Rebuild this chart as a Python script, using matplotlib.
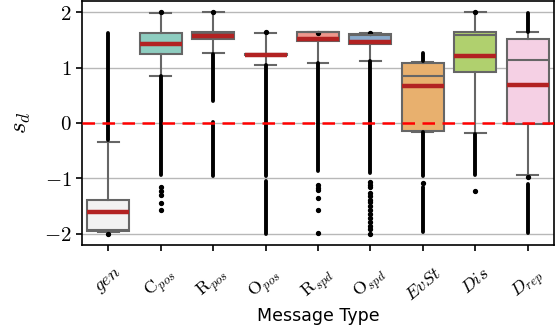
import numpy as np
import matplotlib
matplotlib.use('Agg')
import matplotlib.pyplot as plt

plt.rcParams['font.family'] = 'serif'
plt.rcParams['font.serif'] = ['DejaVu Serif']
plt.rcParams['mathtext.fontset'] = 'cm'

# categories and tick labels
categories = ['gen', 'C_pos', 'R_pos', 'O_pos', 'R_spd', 'O_spd', 'EvSt', 'Dis', 'D_rep']
tick_labels = [r'$gen$', r'$\mathrm{C}_{pos}$', r'$\mathrm{R}_{pos}$', r'$\mathrm{O}_{pos}$',
               r'$\mathrm{R}_{spd}$', r'$\mathrm{O}_{spd}$', r'$EvSt$', r'$Dis$', r'$D_{rep}$']
box_colors = ['#f2f2f2', '#8ecdc0', '#ec8a7f', '#bdb9d6', '#ee978d', '#8aaacb',
              '#e8b06e', '#b0d06e', '#f5d0e4']
y_ticks = [-2, -1, 0, 1, 2]

# box summary values
q1 = [-1.94, 1.25, 1.52, 1.23, 1.47, 1.42, -0.15, 0.925, -0.025]
median = [-1.93, 1.45, 1.62, 1.24, 1.64, 1.59, 0.85, 1.58, 1.134]
q3 = [-1.39, 1.63, 1.64, 1.25, 1.64, 1.61, 1.09, 1.636, 1.516]
mean = [-1.61, 1.43, 1.565, 1.235, 1.515, 1.46, 0.66, 1.21, 0.68]
whis_lo = [-1.97, 0.85, 1.26, 1.045, 1.09, 1.12, -0.16, -0.18, -0.944]
whis_hi = [-0.34, 1.99, 2.0, 1.625, 1.64, 1.62, 1.10, 2.0, 1.636]

# single outliers that can be seen one by one
isolated = [
    [-2.0],
    [2.0, -1.15, -1.22, -1.30, -1.45, -1.57],
    [2.0],
    [1.64],
    [1.63, -1.12, -1.165, -1.21, -1.36, -1.57, -1.99],
    [1.625, -1.06, -1.11, -1.15, -1.26, -1.32, -1.38, -1.43, -1.49, -1.57, -1.64,
     -1.72, -1.78, -1.85, -1.91, -2.0],
    [-1.08],
    [2.0, -1.23],
    [-0.97],
]
# outliers so dense they merge into a column: (low, high)
dense = [
    [(-0.30, 1.63)],
    [(-0.93, 0.84)],
    [(0.39, 1.25), (-0.95, 0.02)],
    [(-0.95, 1.04), (-2.0, -1.05)],
    [(-0.87, 1.09)],
    [(-0.90, 1.12)],
    [(1.11, 1.26), (-0.96, -0.17), (-1.97, -1.15)],
    [(-0.94, -0.19)],
    [(1.65, 1.99), (-1.99, -1.10)],
]

fig = plt.figure(figsize=(5.59, 3.31), dpi=100)
ax = fig.add_axes([82 / 559, 86 / 331, 472 / 559, 244 / 331])

stats = []
for i in range(len(categories)):
    stats.append({'q1': q1[i], 'med': median[i], 'q3': q3[i], 'mean': mean[i],
                  'whislo': whis_lo[i], 'whishi': whis_hi[i], 'fliers': isolated[i]})

pos = np.arange(len(categories))
edge = '#666666'
bp = ax.bxp(stats, positions=pos, widths=0.8, patch_artist=True, showmeans=True, meanline=True,
            boxprops=dict(edgecolor=edge, linewidth=1.5),
            whiskerprops=dict(color=edge, linewidth=1.5),
            capprops=dict(color=edge, linewidth=1.5),
            medianprops=dict(color=edge, linewidth=1.5),
            meanprops=dict(color='#b22222', linestyle='-', linewidth=3.2),
            flierprops=dict(marker='o', markerfacecolor='black', markeredgecolor='black',
                            markersize=2.8, linestyle='none'),
            zorder=3)
for patch, c in zip(bp['boxes'], box_colors):
    patch.set_facecolor(c)

# dense outlier columns
for i, segs in enumerate(dense):
    for lo, hi in segs:
        ax.plot([pos[i], pos[i]], [lo, hi], color='black', linewidth=2.8,
                solid_capstyle='round', zorder=4)

ax.axhline(0, color='red', linestyle='--', linewidth=1.8, dashes=(5, 3), zorder=5)

ax.set_xlim(-0.5, len(categories) - 0.5)
ax.set_ylim(-2.2, 2.2)
ax.set_yticks(y_ticks)
ax.set_yticklabels([r'$%d$' % t for t in y_ticks], fontsize=15)
ax.yaxis.grid(True, color='#b8b8b8', linewidth=1.0, zorder=0)
ax.set_axisbelow(True)

ax.set_xticks(pos)
ax.set_xticklabels(tick_labels, rotation=40, ha='center', fontsize=13)
ax.tick_params(direction='out', length=4, width=1.2, color='black')
ax.tick_params(axis='x', pad=10)
for s in ax.spines.values():
    s.set_linewidth(1.2)
    s.set_color('black')

ax.set_ylabel(r'$s_d$', fontsize=18, labelpad=8)
ax.set_xlabel('Message Type', fontsize=12.5, family='DejaVu Sans', labelpad=2)

plt.savefig('out.png', dpi=100)
